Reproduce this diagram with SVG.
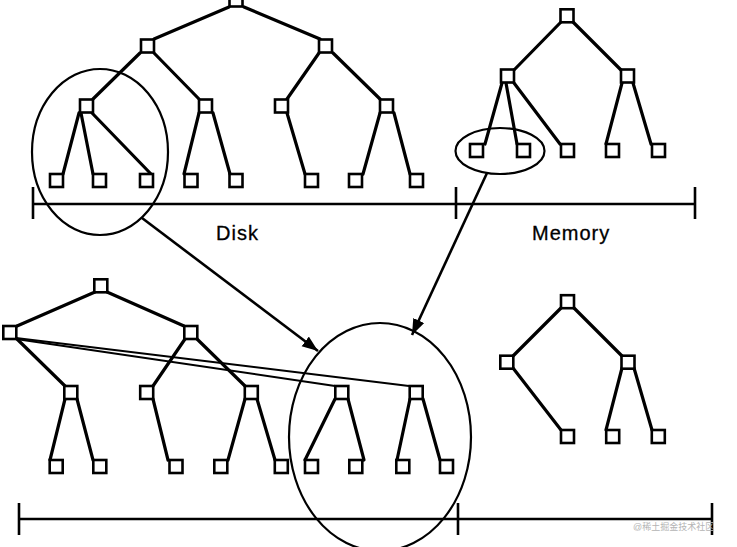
<svg xmlns="http://www.w3.org/2000/svg" width="737" height="547" viewBox="0 0 737 547">
<style>
.e{stroke:#000;stroke-width:3.2;fill:none;stroke-linecap:round}
.t{stroke:#000;stroke-width:2;fill:none}
.b{fill:#fff;stroke:#000;stroke-width:2.6}
.o{fill:none;stroke:#000;stroke-width:2.2}
.ax{stroke:#000;stroke-width:2.6;fill:none}
.lbl{font-family:"Liberation Sans",Arial,sans-serif;font-size:20px;letter-spacing:1px;fill:#000;stroke:#000;stroke-width:0.3}
.wm{font-family:"Liberation Sans","Noto Sans CJK SC",sans-serif;font-size:9px;fill:#b4b4b4}
</style>
<defs>
<marker id="ah" markerUnits="userSpaceOnUse" markerWidth="18" markerHeight="14" refX="16" refY="6" orient="auto">
<path d="M0,0 L16,6 L0,12 z" fill="#000"/>
</marker>
</defs>
<rect width="737" height="547" fill="#fff"/>
<g id="connectors">
<line class="e" x1="229" y1="7" x2="154" y2="39"/>
<line class="e" x1="244" y1="7" x2="320" y2="39"/>
<line class="e" x1="140" y1="53" x2="93" y2="99"/>
<line class="e" x1="154" y1="53" x2="199" y2="99"/>
<line class="e" x1="319" y1="53" x2="287" y2="99"/>
<line class="e" x1="333" y1="53" x2="380" y2="99"/>
<line class="e" x1="79" y1="113" x2="63" y2="174"/>
<line class="e" x1="81" y1="113" x2="93" y2="174"/>
<line class="e" x1="92" y1="113" x2="151" y2="174"/>
<line class="e" x1="199" y1="113" x2="184" y2="174"/>
<line class="e" x1="213" y1="113" x2="230" y2="174"/>
<line class="e" x1="287" y1="113" x2="305" y2="174"/>
<line class="e" x1="380" y1="113" x2="363" y2="174"/>
<line class="e" x1="394" y1="113" x2="410" y2="174"/>
<line class="e" x1="561" y1="22" x2="514" y2="70"/>
<line class="e" x1="573" y1="22" x2="621" y2="70"/>
<line class="e" x1="502" y1="83" x2="485" y2="144"/>
<line class="e" x1="506" y1="83" x2="517" y2="144"/>
<line class="e" x1="514" y1="83" x2="560" y2="144"/>
<line class="e" x1="622" y1="83" x2="606" y2="144"/>
<line class="e" x1="633" y1="83" x2="651" y2="144"/>
<line class="e" x1="95" y1="292" x2="17" y2="326"/>
<line class="e" x1="107" y1="292" x2="184" y2="326"/>
<line class="e" x1="17" y1="339" x2="65" y2="386"/>
<line class="t" x1="16" y1="339" x2="335" y2="386"/>
<line class="t" x1="16" y1="338" x2="409" y2="386"/>
<line class="e" x1="185" y1="339" x2="153" y2="386"/>
<line class="e" x1="197" y1="339" x2="245" y2="386"/>
<line class="e" x1="65" y1="399" x2="50" y2="460"/>
<line class="e" x1="77" y1="399" x2="93" y2="460"/>
<line class="e" x1="153" y1="399" x2="168" y2="460"/>
<line class="e" x1="245" y1="399" x2="228" y2="460"/>
<line class="e" x1="257" y1="399" x2="275" y2="460"/>
<line class="e" x1="335" y1="399" x2="305" y2="460"/>
<line class="e" x1="348" y1="399" x2="364" y2="460"/>
<line class="e" x1="410" y1="399" x2="397" y2="460"/>
<line class="e" x1="423" y1="399" x2="440" y2="460"/>
<line class="e" x1="561" y1="308" x2="513" y2="356"/>
<line class="e" x1="574" y1="308" x2="622" y2="356"/>
<line class="e" x1="513" y1="368" x2="561" y2="430"/>
<line class="e" x1="622" y1="368" x2="606" y2="430"/>
<line class="e" x1="634" y1="368" x2="652" y2="430"/>
<line class="ax" x1="142" y1="218" x2="318" y2="351" marker-end="url(#ah)"/>
<line class="ax" x1="487" y1="173" x2="412" y2="335" marker-end="url(#ah)"/>
</g>
<g id="axes">
<line class="ax" x1="33" y1="204" x2="695" y2="204"/>
<line class="ax" x1="33" y1="187" x2="33" y2="219"/>
<line class="ax" x1="456" y1="187" x2="456" y2="219"/>
<line class="ax" x1="695" y1="187" x2="695" y2="219"/>
<line class="ax" x1="19" y1="519" x2="712" y2="519"/>
<line class="ax" x1="19" y1="503" x2="19" y2="535"/>
<line class="ax" x1="458" y1="503" x2="458" y2="535"/>
<line class="ax" x1="712" y1="503" x2="712" y2="535"/>
</g>
<g id="ellipses">
<ellipse class="o" cx="100" cy="152" rx="68" ry="83"/>
<ellipse class="o" cx="500" cy="151" rx="44.5" ry="23"/>
<ellipse class="o" cx="380" cy="437" rx="91" ry="114"/>
</g>
<g id="tl-root"><rect class="b" x="229.5" y="-6.5" width="13" height="13"/></g>
<g id="tl-a"><rect class="b" x="141" y="39.5" width="13" height="13"/></g>
<g id="tl-b"><rect class="b" x="319" y="39.5" width="13" height="13"/></g>
<g id="tl-c"><rect class="b" x="80" y="99.5" width="13" height="13"/></g>
<g id="tl-d"><rect class="b" x="199" y="99.5" width="13" height="13"/></g>
<g id="tl-e"><rect class="b" x="275" y="99.5" width="13" height="13"/></g>
<g id="tl-f"><rect class="b" x="380" y="99.5" width="13" height="13"/></g>
<g id="tl-l1"><rect class="b" x="50" y="174" width="13" height="13"/></g>
<g id="tl-l2"><rect class="b" x="93" y="174" width="13" height="13"/></g>
<g id="tl-l3"><rect class="b" x="140" y="174" width="13" height="13"/></g>
<g id="tl-l4"><rect class="b" x="184.5" y="174" width="13" height="13"/></g>
<g id="tl-l5"><rect class="b" x="229.5" y="174" width="13" height="13"/></g>
<g id="tl-l6"><rect class="b" x="305" y="174" width="13" height="13"/></g>
<g id="tl-l7"><rect class="b" x="349" y="174" width="13" height="13"/></g>
<g id="tl-l8"><rect class="b" x="410" y="174" width="13" height="13"/></g>
<g id="tr-root"><rect class="b" x="560.5" y="9.3" width="13" height="13"/></g>
<g id="tr-a"><rect class="b" x="501" y="69.5" width="13" height="13"/></g>
<g id="tr-b"><rect class="b" x="621" y="69.5" width="13" height="13"/></g>
<g id="tr-l1"><rect class="b" x="470" y="144" width="13" height="13"/></g>
<g id="tr-l2"><rect class="b" x="517" y="144" width="13" height="13"/></g>
<g id="tr-l3"><rect class="b" x="561" y="144" width="13" height="13"/></g>
<g id="tr-l4"><rect class="b" x="606" y="144" width="13" height="13"/></g>
<g id="tr-l5"><rect class="b" x="652" y="144" width="13" height="13"/></g>
<g id="bl-root"><rect class="b" x="94.3" y="279.3" width="13" height="13"/></g>
<g id="bl-a"><rect class="b" x="3.3" y="326" width="13" height="13"/></g>
<g id="bl-b"><rect class="b" x="184.3" y="326" width="13" height="13"/></g>
<g id="bl-c"><rect class="b" x="64.3" y="386" width="13" height="13"/></g>
<g id="bl-d"><rect class="b" x="140.2" y="386" width="13" height="13"/></g>
<g id="bl-e"><rect class="b" x="244.8" y="386" width="13" height="13"/></g>
<g id="bl-f"><rect class="b" x="335.3" y="386" width="13" height="13"/></g>
<g id="bl-g"><rect class="b" x="409.7" y="386" width="13" height="13"/></g>
<g id="bl-l1"><rect class="b" x="49.7" y="460" width="13" height="13"/></g>
<g id="bl-l2"><rect class="b" x="93.3" y="460" width="13" height="13"/></g>
<g id="bl-l3"><rect class="b" x="169.5" y="460" width="13" height="13"/></g>
<g id="bl-l4"><rect class="b" x="214.3" y="460" width="13" height="13"/></g>
<g id="bl-l5"><rect class="b" x="274.8" y="460" width="13" height="13"/></g>
<g id="bl-l6"><rect class="b" x="305" y="460" width="13" height="13"/></g>
<g id="bl-l7"><rect class="b" x="349.3" y="460" width="13" height="13"/></g>
<g id="bl-l8"><rect class="b" x="396.3" y="460" width="13" height="13"/></g>
<g id="bl-l9"><rect class="b" x="440" y="460" width="13" height="13"/></g>
<g id="br-root"><rect class="b" x="561" y="295.2" width="13" height="13"/></g>
<g id="br-a"><rect class="b" x="500.3" y="355.7" width="13" height="13"/></g>
<g id="br-b"><rect class="b" x="621.5" y="355.7" width="13" height="13"/></g>
<g id="br-l1"><rect class="b" x="561" y="430" width="13" height="13"/></g>
<g id="br-l2"><rect class="b" x="606.2" y="430" width="13" height="13"/></g>
<g id="br-l3"><rect class="b" x="651.8" y="430" width="13" height="13"/></g>
<g id="labels">
<text class="lbl" x="216" y="240">Disk</text>
<text class="lbl" x="532" y="240">Memory</text>
<text class="wm" x="633" y="530">@稀土掘金技术社区</text>
</g>
</svg>
